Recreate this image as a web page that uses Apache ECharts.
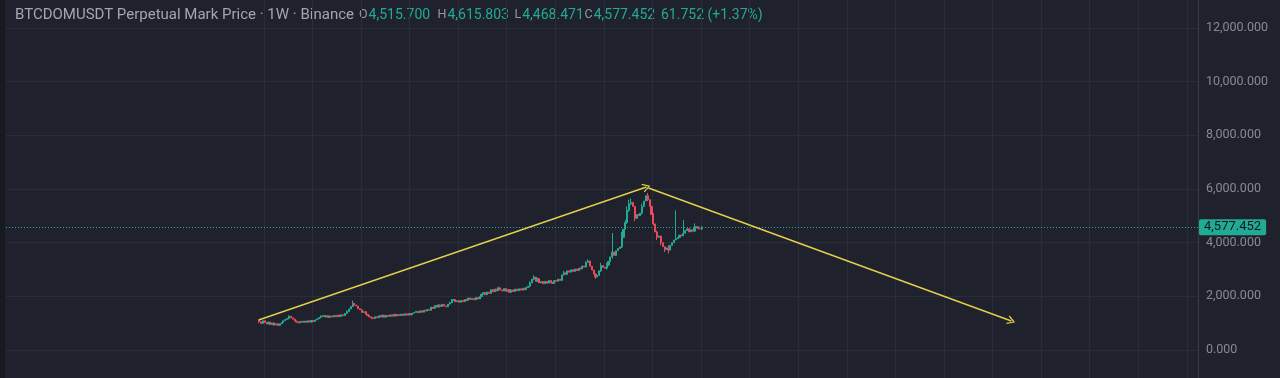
<!DOCTYPE html>
<html><head><meta charset="utf-8">
<script src="https://cdn.jsdelivr.net/npm/echarts@6/dist/echarts.min.js"></script>
<style>html,body{margin:0;padding:0;background:#1f212c;}#c{width:1280px;height:378px;}</style>
</head><body><div id="c"></div>
<script>
// ---------- data ----------
const title = 'BTCDOMUSDT Perpetual Mark Price · 1W · Binance';
const firstOpen = 1100;
const closes = [
  1060,990,1090,1020,970,1040,950,1010,930,980,
  910,980,1030,1090,1140,1180,1260,1200,1150,1080,
  1040,1010,1070,1030,1080,1030,1090,1040,1100,1060,
  1120,1160,1210,1250,1290,1230,1280,1210,1270,1230,
  1290,1240,1300,1250,1310,1280,1360,1430,1530,1620,
  1740,1680,1640,1540,1500,1400,1430,1330,1290,1230,
  1200,1170,1240,1200,1280,1230,1300,1220,1290,1250,
  1310,1260,1330,1270,1320,1280,1340,1290,1350,1300,
  1360,1310,1370,1400,1440,1390,1460,1410,1480,1450,
  1510,1480,1600,1550,1660,1600,1680,1620,1700,1640,
  1610,1710,1760,1850,1880,1800,1840,1780,1850,1800,
  1880,1850,1940,1880,1920,1870,1960,1900,1990,2080,
  2140,2060,2160,2110,2250,2170,2270,2200,2320,2240,
  2200,2290,2190,2250,2150,2240,2180,2270,2210,2280,
  2230,2300,2250,2330,2380,2500,2640,2720,2560,2660,
  2500,2550,2470,2560,2490,2590,2520,2480,2590,2560,
  2640,2590,2800,2880,2820,2950,2900,2990,2930,3020,
  2960,3050,3020,3130,3090,3270,3320,3120,2980,2830,
  2720,2780,2950,3150,3080,3050,3160,3300,3470,3650,
  3520,3700,3780,3840,4200,4500,4750,5200,5450,5500,
  5350,4900,5050,5000,5100,5350,5550,5750,5600,5350,
  5050,4700,4400,4200,4250,4000,3850,3750,3800,3720,
  3900,4000,4100,4150,4200,4280,4250,4350,4450,4520,
  4400,4480,4430,4550,4600,4520,4515.7,4577.452
];
// notable wicks: [candle index, high, low]
const wicks = [
  [0,1120,1000],[8,1030,900],[16,1290,1140],[33,1300,1180],[47,1480,1400],
  [50,1840,1600],[60,1260,1150],[102,1800,1700],[103,1900,1760],[128,2360,2230],
  [145,2560,2330],[147,2780,2600],[163,2950,2780],[175,3300,3080],[176,3380,3250],
  [180,2850,2650],[183,3250,2900],[186,3250,3000],[189,4360,3400],[194,4400,3800],
  [196,4850,4500],[197,5350,4700],[198,5600,5150],[199,5650,5400],[201,5350,4800],
  [205,5450,5050],[208,5850,5550],[211,5100,4650],[213,4450,4100],[215,4250,3900],
  [217,3850,3650],[219,3900,3600],[223,5200,4100],[227,4840,4250],[233,4720,4400],
  [237,4615.803,4468.471]
];
const yMin = 0, yMax = 12000, yStep = 2000;
// trend-line drawing, [candle index, price]
const trendUp = [[-0.3, 1118], [207.3, 6075]];
const trendDown = [[208.4, 6037], [402.6, 1081]];

// ---------- layout of the week slots ----------
const slotsBefore = 135, slotsTotal = 638, gridEvery = 26, gridOffset = 3;
const slots = Array.from({length: slotsTotal}, (_, i) => String(i));

const wickMap = {};
wicks.forEach(w => { wickMap[w[0]] = w; });
const candles = [];
for (let i = 0; i < slotsBefore; i++) candles.push('-');
closes.forEach((c, i) => {
  const o = i === 0 ? firstOpen : closes[i - 1];
  const w = wickMap[i];
  const hi = w ? Math.max(w[1], o, c) : Math.max(o, c);
  const lo = w ? Math.min(w[2], o, c) : Math.min(o, c);
  candles.push([o, c, lo, hi]);
});
const last = candles[candles.length - 1];
const fmt = v => v.toLocaleString('en-US', {minimumFractionDigits: 3, maximumFractionDigits: 3});
const chg = last[1] - last[0];
const pct = chg / last[0] * 100;

const UP = '#22ab94', DOWN = '#f0475a', GRID = '#2a2d38', TXT = '#a3a6af', KEY = '#9598a1', YEL = '#e3d04a';
const chev = 'path://M0,9L5,0L10,9L8.8,9.8L5,2.6L1.2,9.8Z';
const HY = 15;
function ohlc(x, key, val) {
  return {type: 'text', x: x, y: HY, silent: true,
    style: {text: '{k|' + key + '}{v|' + val + '}', verticalAlign: 'middle', align: 'left',
      rich: {k: {fill: KEY, fontSize: 12.5, fontFamily: 'Roboto', padding: [0, 1, 0, 0]},
             v: {fill: UP, fontSize: 14, fontFamily: 'Roboto'}}}};
}

const chart = echarts.init(document.getElementById('c'), null, {renderer: 'canvas'});
chart.setOption({
  animation: false,
  backgroundColor: '#1f212c',
  grid: [
    {left: 6, right: 82, top: 0, bottom: 0},
    {left: 6, right: 82, top: 28, bottom: 28}
  ],
  xAxis: [
    {type: 'category', gridIndex: 0, data: slots, boundaryGap: true,
     axisLine: {show: false}, axisTick: {show: false}, axisLabel: {show: false},
     splitLine: {show: true, lineStyle: {color: GRID, width: 1},
       interval: (idx) => idx >= slotsBefore + gridOffset && (idx - slotsBefore - gridOffset) % gridEvery === 0}},
    {type: 'value', gridIndex: 0, show: false, min: -slotsBefore - 0.5, max: slotsTotal - slotsBefore - 0.5},
    {type: 'value', gridIndex: 1, show: false, min: 0, max: 1}
  ],
  yAxis: [
    {type: 'value', gridIndex: 0, position: 'right',
     min: yMin - 28 * (yMax - yMin) / 322, max: yMax + 28 * (yMax - yMin) / 322,
     axisLine: {show: true, onZero: false, lineStyle: {color: '#363a45'}}, axisTick: {show: false},
     axisLabel: {show: false}, splitLine: {show: false}},
    {type: 'value', gridIndex: 1, position: 'right', min: yMin, max: yMax, interval: yStep,
     axisLine: {show: false, onZero: false}, axisTick: {show: false},
     axisLabel: {show: true, margin: 8, color: '#878a94', fontSize: 12.5, fontFamily: 'Roboto',
       showMinLabel: true, showMaxLabel: true, formatter: v => fmt(v)},
     splitLine: {show: true, lineStyle: {color: GRID, width: 1}}}
  ],
  series: [
    {type: 'candlestick', xAxisIndex: 0, yAxisIndex: 0, data: candles, large: false,
     barWidth: 1.6, silent: true,
     itemStyle: {color: UP, color0: DOWN, borderColor: UP, borderColor0: DOWN, borderWidth: 1},
     markLine: {silent: true, symbol: 'none', animation: false,
       lineStyle: {color: UP, type: [1, 2], width: 1},
       label: {show: true, position: 'end', distance: 1, formatter: fmt(last[1]),
         backgroundColor: UP, color: '#131722', fontSize: 13, fontFamily: 'Roboto',
         padding: [2, 5, 1, 5], borderRadius: 2},
       data: [{yAxis: last[1]}]}},
    {type: 'line', xAxisIndex: 1, yAxisIndex: 0, data: [trendUp[0], trendUp[1], trendDown[1]],
     showSymbol: false, symbol: 'none', lineStyle: {opacity: 0}, silent: true,
     markLine: {silent: true, animation: false, symbol: ['none', chev], symbolSize: [9, 8],
       label: {show: false}, lineStyle: {color: YEL, type: 'solid', width: 1.4},
       data: [
         [{coord: trendUp[0]}, {coord: trendUp[1]}],
         [{coord: trendDown[0]}, {coord: trendDown[1]}]
       ]}}
  ],
  graphic: [
    {type: 'rect', shape: {x: 0, y: 0, width: 5, height: 378}, style: {fill: '#181a22'}, silent: true},
    {type: 'text', x: 15, y: HY, silent: true,
     style: {text: title, fill: TXT, font: '15px Roboto', align: 'left', verticalAlign: 'middle'}},
    ohlc(359, 'O', fmt(last[0])),
    ohlc(437.5, 'H', fmt(last[3])),
    ohlc(514.5, 'L', fmt(last[2])),
    ohlc(584.5, 'C', fmt(last[1])),
    {type: 'text', x: 661, y: HY, silent: true,
     style: {text: fmt(chg) + ' (' + (pct >= 0 ? '+' : '') + pct.toFixed(2) + '%)', fill: UP,
       font: '14px Roboto', align: 'left', verticalAlign: 'middle'}}
  ]
});
</script></body></html>
